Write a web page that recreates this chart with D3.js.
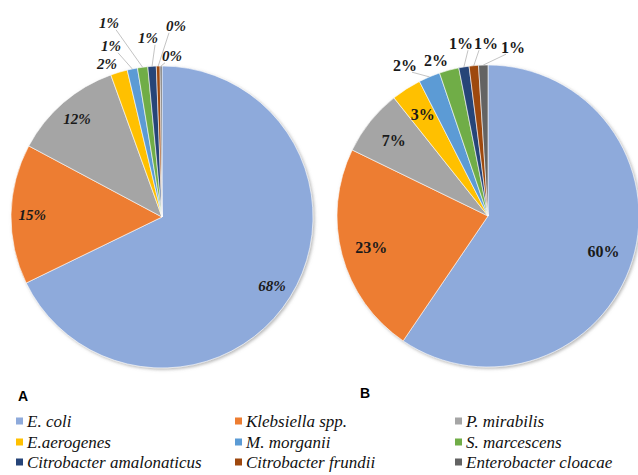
<!DOCTYPE html>
<html>
<head>
<meta charset="utf-8">
<script src="https://cdn.jsdelivr.net/npm/d3@7"></script>
<style>
  html, body { margin: 0; padding: 0; background: #fff; }
  svg { display: block; }
</style>
</head>
<body>
<svg id="chart" width="638" height="475"></svg>
<script>
// Bacterial isolates, share of total (%)
const species = [
  "E. coli", "Klebsiella spp.", "P. mirabilis",
  "E.aerogenes", "M. morganii", "S. marcescens",
  "Citrobacter amalonaticus", "Citrobacter frundii", "Enterobacter cloacae"
];
const sharesA = [67.8, 15.0, 11.7, 1.8, 1.1, 1.1, 0.9, 0.4, 0.2];
const sharesB = [59.5, 22.7, 7.1, 3.2, 2.3, 2.1, 1.1, 1.0, 1.0];
const panelNames = ["A", "B"];
const sliceColors = [
  "#8eaadb", "#ed7d31", "#a5a5a5",
  "#ffc000", "#5b9bd5", "#70ad47",
  "#264478", "#9e480e", "#636363"
];

const SERIF = "Liberation Serif";
const SANS = "Liberation Sans";

const svg = d3.select("#chart");

const defs = svg.append("defs");
const shadow = defs.append("filter").attr("id", "pieShadow")
  .attr("x", "-10%").attr("y", "-10%").attr("width", "120%").attr("height", "120%");
shadow.append("feDropShadow")
  .attr("dx", 1.5).attr("dy", 1.5).attr("stdDeviation", 1.4)
  .attr("flood-color", "#808080").attr("flood-opacity", 0.55);

const color = d3.scaleOrdinal().domain(species).range(sliceColors);
const pie = d3.pie().sort(null).value(d => d.value);
const fmt = v => Math.round(v) + "%";

// Layout of the two panels
const panels = [
  {
    name: panelNames[0], values: sharesA, cx: 162, cy: 217, r: 151,
    font: { style: "italic", weight: "bold", size: 15 },
    inside: 3, insideFrac: 0.86,
    // label anchors for the narrow slices, relative to the pie centre
    outside: [[-55, -153, false], [-51, -171, true], [-53, -194, true],
              [-14, -179, true], [14, -191, true], [10, -161, true]],
    titleX: 23, titleY: 401
  },
  {
    name: panelNames[1], values: sharesB, cx: 488, cy: 216, r: 151,
    font: { style: "normal", weight: "bold", size: 16 },
    inside: 4, insideFrac: 0.8,
    outside: [[-83, -151, true], [-52, -156, false], [-27, -173, true],
              [-2, -173, true], [25, -169, true]],
    titleX: 365, titleY: 398
  }
];

panels.forEach(p => {
  const data = species.map((s, i) => ({ name: s, value: p.values[i] }));
  const arcs = pie(data);
  const arc = d3.arc().innerRadius(0).outerRadius(p.r);
  const g = svg.append("g").attr("transform", `translate(${p.cx},${p.cy})`);

  g.append("g").attr("filter", "url(#pieShadow)")
    .selectAll("path").data(arcs).join("path")
    .attr("d", arc)
    .attr("fill", d => color(d.data.name))
    .attr("stroke", "#ffffff").attr("stroke-width", 0.6);

  const labelArc = d3.arc().innerRadius(p.r * p.insideFrac).outerRadius(p.r * p.insideFrac);
  const edgeArc = d3.arc().innerRadius(p.r).outerRadius(p.r);

  const txt = sel => sel
    .attr("font-family", SERIF)
    .attr("font-style", p.font.style)
    .attr("font-weight", p.font.weight)
    .attr("font-size", p.font.size)
    .attr("fill", "#1a1a1a")
    .attr("text-anchor", "middle")
    .attr("dominant-baseline", "central");

  // labels inside the large slices
  arcs.slice(0, p.inside).forEach(d => {
    const [x, y] = labelArc.centroid(d);
    g.append("text").call(txt).attr("x", x).attr("y", y).text(fmt(d.data.value));
  });

  // labels outside the narrow slices, with leader lines
  arcs.slice(p.inside).forEach((d, i) => {
    const [lx, ly, leader] = p.outside[i];
    if (leader) {
      const [ex, ey] = edgeArc.centroid(d);
      const sx = lx + (ex > lx ? 7 : ex < lx - 7 ? -7 : 0);
      const sy = ly + p.font.size * 0.45;
      g.append("line")
        .attr("x1", sx).attr("y1", sy).attr("x2", ex).attr("y2", ey)
        .attr("stroke", "#b4b4b4").attr("stroke-width", 0.8);
    }
    g.append("text").call(txt).attr("x", lx).attr("y", ly).text(fmt(d.data.value));
  });

  svg.append("text")
    .attr("font-family", SANS)
    .attr("x", p.titleX).attr("y", p.titleY)
    .attr("text-anchor", "middle")
    .attr("font-weight", "bold").attr("font-size", 14)
    .attr("fill", "#000")
    .text(p.name);
});

// Legend: three columns, three rows
const legendCols = [16, 235, 455];
const legendRows = [421, 442, 462];
const legend = svg.append("g");
species.forEach((s, i) => {
  const x = legendCols[i % 3], y = legendRows[Math.floor(i / 3)];
  legend.append("rect")
    .attr("x", x).attr("y", y - 3.5).attr("width", 7).attr("height", 7)
    .attr("fill", color(s));
  legend.append("text")
    .attr("font-family", SERIF)
    .attr("x", x + 11).attr("y", y)
    .attr("dominant-baseline", "central")
    .attr("font-style", "italic")
    .attr("font-size", 17)
    .attr("fill", "#111")
    .text(s);
});
</script>
</body>
</html>
